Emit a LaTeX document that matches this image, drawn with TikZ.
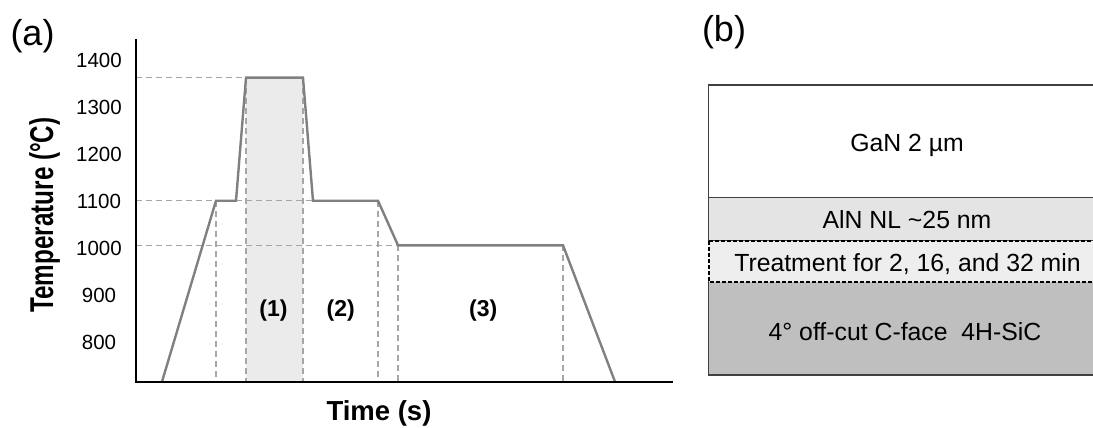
\documentclass[tikz,border=0pt]{standalone}
\usepackage{fontspec}
\setmainfont{Liberation Sans}
\definecolor{curvegray}{HTML}{808080}
\definecolor{guidegray}{HTML}{A6A6A6}
\definecolor{stepfill}{HTML}{EBEBEB}
\definecolor{boxedge}{HTML}{404040}
\definecolor{alnfill}{HTML}{E4E4E4}
\definecolor{treatfill}{HTML}{EEEEEE}
\definecolor{sicfill}{HTML}{BFBFBF}
\newcommand\fsz[1]{\fontsize{#1pt}{#1pt}\selectfont}
\begin{document}
\begin{tikzpicture}[x=1pt,y=-1pt,
  profile/.style={draw=curvegray, line width=2.4pt, line join=miter},
  guide/.style={draw=guidegray, line width=1.2pt, dash pattern=on 6pt off 4pt},
  axisline/.style={draw=black, line width=2.2pt},
  ticklabel/.style={font=\fsz{20.5}, inner sep=0pt, anchor=center},
  stagelabel/.style={font=\fsz{23}\bfseries, inner sep=0pt, anchor=center},
  panellabel/.style={font=\fsz{36}, inner sep=0pt, anchor=center},
  layer/.style={draw=boxedge, line width=1.4pt},
  treatbox/.style={draw=black, line width=1.7pt, dash pattern=on 4pt off 2pt, fill=treatfill},
  layertext/.style={font=\fsz{24.8}, inner sep=0pt, anchor=base}]
\useasboundingbox (0,0) rectangle (1093,428);

% ---------- (a) temperature profile ----------
\coordinate (O) at (136,381.7);
\coordinate (ytop) at (136,39);
\coordinate (xend) at (673,381.7);
\coordinate (p0) at (162,381.7);
\coordinate (p1) at (216,200.7);
\coordinate (p2) at (236,200.7);
\coordinate (p3) at (246,77.7);
\coordinate (p4) at (303,77.7);
\coordinate (p5) at (313,200.7);
\coordinate (p6) at (378,200.7);
\coordinate (p7) at (398,245.3);
\coordinate (p8) at (563,245.3);
\coordinate (p9) at (615,381.7);

% high-temperature step shading
\fill[stepfill] (p3) rectangle (p4 |- O);

% guide lines
\draw[guide] (O |- p3) -- (p3);
\draw[guide] (O |- p1) -- (p6);
\draw[guide] (O |- p7) -- (p7);
\foreach \p in {p1,p3,p4,p6,p7,p8} \draw[guide] (\p) -- (\p |- O);

% temperature curve
\draw[profile] (p0) -- (p1) -- (p2) -- (p3) -- (p4) -- (p5) -- (p6) -- (p7) -- (p8) -- (p9);

% axes
\draw[axisline] (ytop) -- (O) -- (xend);

% tick labels
\node[ticklabel] (t1400) at (99,60.5) {1400};
\node[ticklabel] (t1300) at (99,107.5) {1300};
\node[ticklabel] (t1200) at (99,154.5) {1200};
\node[ticklabel] (t1100) at (99,201.5) {1100};
\node[ticklabel] (t1000) at (99,248.5) {1000};
\node[ticklabel] (t900) at (99,295.5) {900};
\node[ticklabel] (t800) at (99,342.5) {800};

% axis titles
\node[font=\fsz{33}\bfseries, inner sep=0pt, anchor=base, rotate=90] (ylab) at (53,215)
  {\scalebox{0.735}[1]{Temperature (°C)}};
\node[font=\fsz{27.5}\bfseries, inner sep=0pt, anchor=center] (xlab) at (379,413.3) {Time (s)};

% stage labels
\node[stagelabel] (s1) at (273.5,311) {(1)};
\node[stagelabel] (s2) at (340.7,311) {(2)};
\node[stagelabel] (s3) at (483.3,311) {(3)};

\node[panellabel] (la) at (32.5,36) {(a)};

% ---------- (b) layer stack ----------
\node[panellabel] (lb) at (724,32.5) {(b)};

\draw[layer, fill=white] (708.3,85) rectangle (1096,197.3);
\draw[layer, fill=alnfill] (708.3,197.3) rectangle (1096,241);
\draw[layer, fill=sicfill] (708.3,281.7) rectangle (1096,375);
\draw[treatbox] (708.8,241) rectangle (1096,281.7);

\node[layertext] (gan) at (907,151.7) {GaN 2 µm};
\node[layertext] (aln) at (907,228.3) {AlN NL {\char"7E}25 nm};
\node[layertext] (treat) at (907.5,271.7) {Treatment for 2, 16, and 32 min};
\node[layertext] (sic) at (905,340) {4° off-cut C-face\ \ 4H-SiC};
\end{tikzpicture}
\end{document}
